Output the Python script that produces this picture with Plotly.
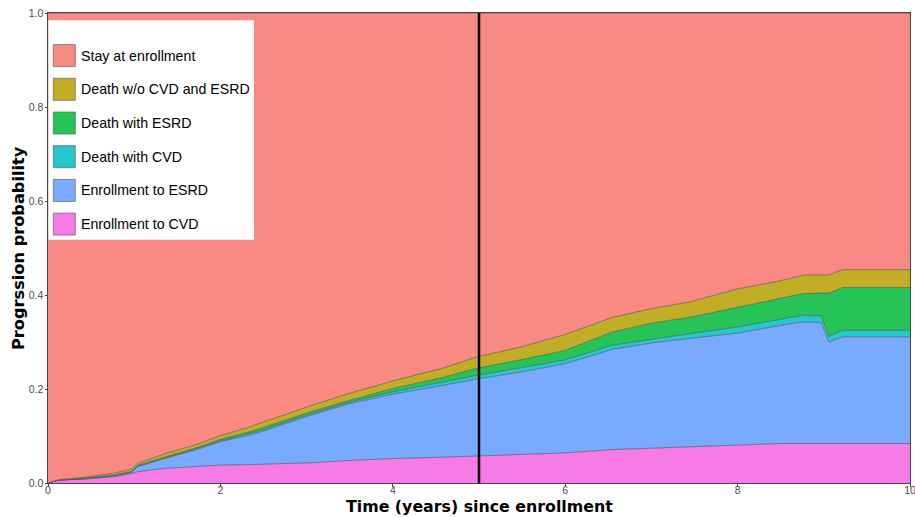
import plotly.graph_objects as go

# ---- data ----
years = [0, 0.12, 0.4, 0.66, 0.77, 0.97, 1.04, 1.35, 1.74, 2.0, 2.32, 2.49, 3.04, 3.5,
         4.0, 4.59, 4.97, 5.48, 6.0, 6.54, 7.0, 7.46, 8.0, 8.49, 8.76, 8.97, 9.06, 9.22, 10]

enroll_cvd = [0, 0.006, 0.008, 0.011, 0.013, 0.020, 0.024, 0.031, 0.035, 0.038, 0.039, 0.040,
              0.043, 0.048, 0.052, 0.055, 0.057, 0.061, 0.064, 0.071, 0.074, 0.078, 0.080,
              0.084, 0.084, 0.084, 0.084, 0.084, 0.084]
enroll_esrd = [0, 0.000, 0.001, 0.003, 0.003, 0.003, 0.011, 0.021, 0.037, 0.050, 0.062, 0.070,
               0.101, 0.121, 0.137, 0.153, 0.164, 0.175, 0.190, 0.213, 0.224, 0.230, 0.239,
               0.251, 0.259, 0.257, 0.216, 0.227, 0.227]
death_cvd = [0, 0.000, 0.000, 0.000, 0.000, 0.000, 0.001, 0.001, 0.002, 0.002, 0.003, 0.003,
             0.003, 0.003, 0.005, 0.007, 0.008, 0.009, 0.008, 0.009, 0.008, 0.010, 0.013,
             0.013, 0.014, 0.015, 0.012, 0.014, 0.014]
death_esrd = [0, 0.000, 0.001, 0.001, 0.001, 0.002, 0.002, 0.002, 0.002, 0.003, 0.004, 0.005,
              0.004, 0.004, 0.007, 0.010, 0.015, 0.017, 0.020, 0.028, 0.034, 0.035, 0.042,
              0.044, 0.046, 0.048, 0.092, 0.091, 0.091]
death_other = [0, 0.001, 0.002, 0.003, 0.004, 0.005, 0.004, 0.007, 0.007, 0.008, 0.010, 0.011,
               0.013, 0.015, 0.016, 0.020, 0.024, 0.027, 0.034, 0.031, 0.031, 0.033, 0.039,
               0.038, 0.039, 0.039, 0.039, 0.038, 0.038]
stay = [1, 0.993, 0.988, 0.982, 0.979, 0.970, 0.958, 0.938, 0.917, 0.899, 0.882, 0.871,
        0.836, 0.809, 0.783, 0.755, 0.732, 0.711, 0.684, 0.648, 0.629, 0.614, 0.587,
        0.570, 0.558, 0.557, 0.557, 0.546, 0.546]

cutoff_year = 5
x_title = "Time (years) since enrollment"
y_title = "Progrssion probability"

# stacking order: bottom first
series = [
    ("Enrollment to CVD", enroll_cvd, "#F67BE7"),
    ("Enrollment to ESRD", enroll_esrd, "#78ABFF"),
    ("Death with CVD", death_cvd, "#26C8CD"),
    ("Death with ESRD", death_esrd, "#26C456"),
    ("Death w/o CVD and ESRD", death_other, "#C2AD26"),
    ("Stay at enrollment", stay, "#F98A83"),
]

fig = go.Figure()
for name, vals, col in series:
    fig.add_trace(go.Scatter(
        x=years, y=vals, name=name, stackgroup="one", mode="lines",
        line=dict(width=0.8, color="rgba(70,70,70,0.75)"),
        fillcolor=col, showlegend=False, hoverinfo="x+y+name"))

# vertical reference line at the cutoff year
fig.add_shape(type="line", xref="x", yref="paper", x0=cutoff_year, x1=cutoff_year,
              y0=0, y1=1, line=dict(color="black", width=2.5))

# plot-area geometry in pixels (used for legend / title placement)
L, T, W, H = 48, 12.7, 862, 470

def px(xp):
    return (xp - L) / W

def py(yp):
    return 1 - (yp - T) / H

FONT = "Liberation Sans, Arial, sans-serif"
TITLE_FONT = "DejaVu Sans, Liberation Sans, sans-serif"

# manual legend (top = last stacked layer)
fig.add_shape(type="rect", xref="paper", yref="paper",
              x0=px(48.4), x1=px(254), y0=py(20), y1=py(239.5),
              fillcolor="white", line=dict(width=0), layer="above")
for i, (name, vals, col) in enumerate(reversed(series)):
    cy = 55.3 + i * 33.7
    fig.add_shape(type="rect", xref="paper", yref="paper",
                  x0=px(53.3), x1=px(75.3), y0=py(cy + 11), y1=py(cy - 11),
                  fillcolor=col, line=dict(color="rgba(90,90,90,0.8)", width=0.8), layer="above")
    fig.add_annotation(xref="paper", yref="paper", x=px(78.5), y=py(cy),
                       text=name, showarrow=False, xanchor="left", yanchor="middle",
                       font=dict(family=FONT, size=14.2, color="black"))

# axis titles
fig.add_annotation(xref="paper", yref="paper", x=px(479), y=py(506),
                   text="<b>" + x_title + "</b>", showarrow=False,
                   xanchor="center", yanchor="middle",
                   font=dict(family=TITLE_FONT, size=15.8, color="black"))
fig.add_annotation(xref="paper", yref="paper", x=px(18), y=py(247.7),
                   text="<b>" + y_title + "</b>", showarrow=False, textangle=-90,
                   xanchor="center", yanchor="middle",
                   font=dict(family=TITLE_FONT, size=16.2, color="black"))

fig.update_layout(
    width=915, height=517,
    margin=dict(l=48, r=5, t=13, b=34, autoexpand=False),
    paper_bgcolor="white", plot_bgcolor="white",
    font=dict(family=FONT),
    showlegend=False,
    xaxis=dict(range=[0, 10], tickvals=[0, 2, 4, 6, 8, 10], ticks="outside", ticklen=2.5,
               tickcolor="#444", tickfont=dict(size=10.5, color="#4d4d4d"),
               ticklabelstandoff=-5, ticklabeloverflow="allow",
               showgrid=False, zeroline=False, showline=True, mirror=True,
               linecolor="#444", linewidth=1, automargin=False),
    yaxis=dict(range=[0, 1], tickvals=[0, 0.2, 0.4, 0.6, 0.8, 1.0], tickformat=".1f",
               ticks="outside", ticklen=2.5, tickcolor="#444",
               tickfont=dict(size=10.5, color="#4d4d4d"),
               ticklabelstandoff=-1, ticklabeloverflow="allow",
               showgrid=False, zeroline=False, showline=True, mirror=True,
               linecolor="#444", linewidth=1, automargin=False),
)

fig.write_html("out.html", config={"displayModeBar": False},
               post_script="document.body.style.margin='0';document.body.style.padding='0';")
